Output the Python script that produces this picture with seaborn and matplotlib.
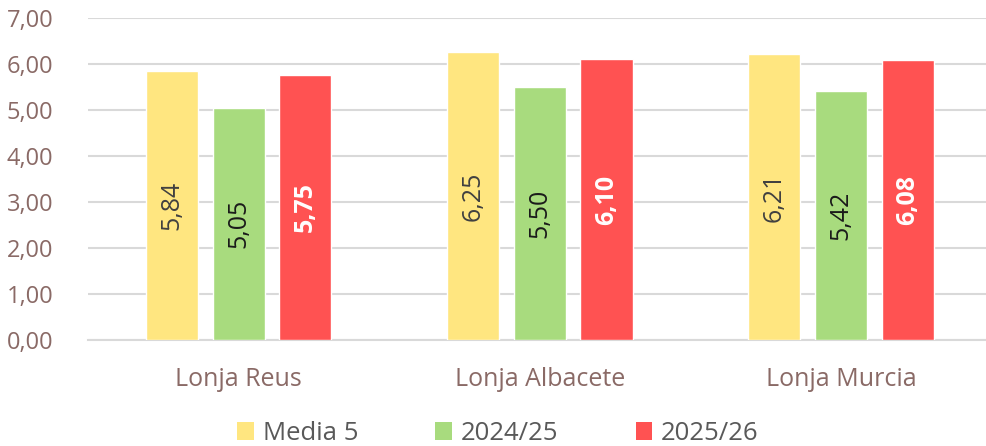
import matplotlib
matplotlib.use("Agg")
import matplotlib.pyplot as plt
import seaborn as sns
import pandas as pd
from matplotlib.patches import Patch

# Prices per market and campaign
lonjas = ["Lonja Reus", "Lonja Albacete", "Lonja Murcia"]
series = ["Media 5", "2024/25", "2025/26"]
media5 = [5.84, 6.25, 6.21]
camp_2024 = [5.05, 5.50, 5.42]
camp_2025 = [5.75, 6.10, 6.08]
y_ticks = [0, 1, 2, 3, 4, 5, 6, 7]

colors = ["#FFE680", "#A8DB7E", "#FF5252"]
label_colors = ["#404040", "#1A1A1A", "#FFFFFF"]
label_weights = ["normal", "normal", "bold"]

df = pd.DataFrame({
    "lonja": lonjas * 3,
    "serie": [series[0]] * 3 + [series[1]] * 3 + [series[2]] * 3,
    "valor": media5 + camp_2024 + camp_2025,
})

sns.set_theme(style="white")
plt.rcParams["font.family"] = ["Open Sans", "DejaVu Sans"]

fig = plt.figure(figsize=(9.86, 4.46), dpi=100)
ax = fig.add_axes([0.0893, 0.2386, 0.9163, 0.7210])

sns.barplot(data=df, x="lonja", y="valor", hue="serie", order=lonjas,
            hue_order=series, palette=colors, width=0.664, gap=0.217,
            saturation=1, legend=False, ax=ax, zorder=3)

for i, cont in enumerate(ax.containers):
    labels = [f"{v:.2f}".replace(".", ",") for v in cont.datavalues]
    ax.bar_label(cont, labels=labels, label_type="center", rotation=90,
                 fontsize=18, color=label_colors[i],
                 fontweight=label_weights[i])

ax.set_ylim(0, 7)
ax.set_xlim(-0.5, 2.5)
ax.set_yticks(y_ticks)
ax.set_yticklabels([f"{t:.2f}".replace(".", ",") for t in y_ticks])
ax.grid(axis="y", color="#D9D9D9", linewidth=1.5, zorder=0)
ax.set_axisbelow(True)
for side in ["top", "right", "left"]:
    ax.spines[side].set_visible(False)
ax.spines["bottom"].set_color("#D9D9D9")
ax.spines["bottom"].set_linewidth(1.5)
ax.tick_params(axis="y", length=0, pad=25, labelsize=17, labelcolor="#8A6A66")
ax.tick_params(axis="x", length=0, pad=20, labelsize=18, labelcolor="#8A6A66")
ax.set_xlabel("")
ax.set_ylabel("")

handles = [Patch(facecolor=c, edgecolor="none") for c in colors]
leg = fig.legend(handles, series, loc="center", bbox_to_anchor=(0.505, 0.028),
                 ncol=3, frameon=False, fontsize=18.5, handlelength=0.65,
                 handleheight=0.65, handletextpad=0.35, columnspacing=3.0)
for t in leg.get_texts():
    t.set_color("#595959")

fig.savefig("out.png", dpi=100)
